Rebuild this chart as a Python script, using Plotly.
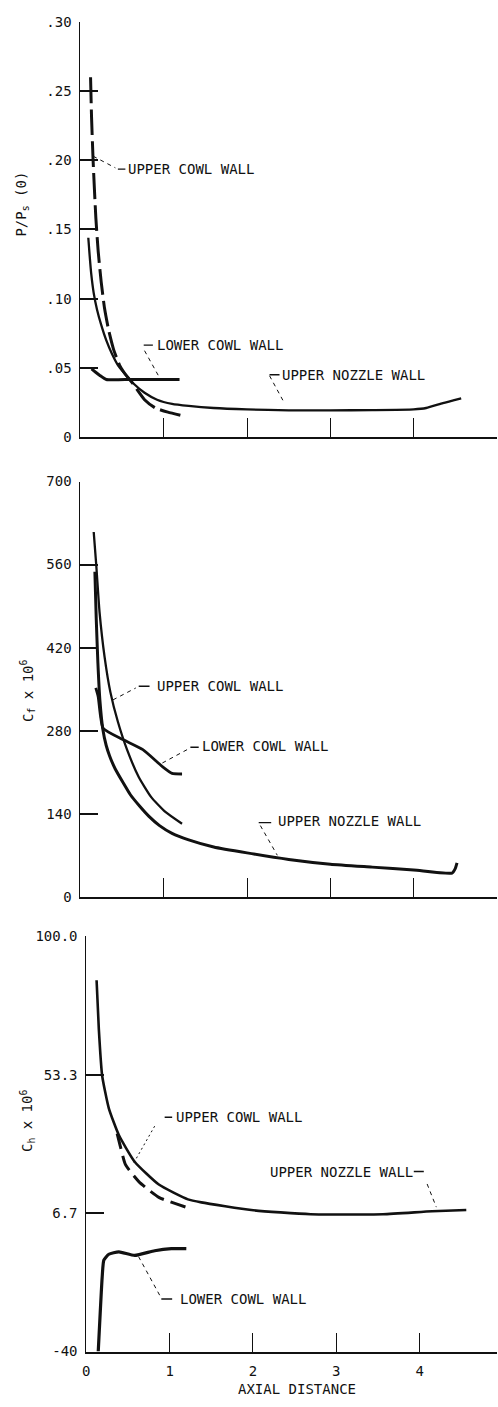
import plotly.graph_objects as go

W, H = 498, 1407
FONT = "DejaVu Sans Mono"

# ---------------- pressure ratio P/Ps(0) ----------------
p_upper_cowl_x = [0.122, 0.134, 0.154, 0.186, 0.214, 0.25, 0.29, 0.34, 0.40, 0.47, 0.55, 0.63, 0.77, 0.90, 1.05, 1.2]
p_upper_cowl_y = [0.26, 0.231, 0.198, 0.158, 0.134, 0.112, 0.093, 0.077, 0.063, 0.052, 0.0445, 0.0386, 0.027, 0.021, 0.018, 0.0157]

p_upper_nozzle_x = [0.095, 0.11, 0.13, 0.16, 0.20, 0.25, 0.31, 0.38, 0.46, 0.55, 0.65, 0.77, 0.92, 1.1, 1.3, 1.6,
                    2.0, 2.5, 3.0, 3.5, 4.0, 4.15, 4.35, 4.57]
p_upper_nozzle_y = [0.144, 0.132, 0.118, 0.104, 0.092, 0.081, 0.070, 0.060, 0.051, 0.0445, 0.038, 0.032, 0.027,
                    0.024, 0.0225, 0.021, 0.020, 0.0193, 0.0193, 0.0195, 0.020, 0.021, 0.0245, 0.028]

p_lower_cowl_x = [0.134, 0.18, 0.234, 0.312, 0.6, 0.9, 1.19]
p_lower_cowl_y = [0.0493, 0.047, 0.0445, 0.0416, 0.0416, 0.0416, 0.0416]

p_ticks = [0, 0.05, 0.10, 0.15, 0.20, 0.25, 0.30]
p_tick_text = ["0", ".05", ".10", ".15", ".20", ".25", ".30"]

# ---------------- skin friction Cf x 10^6 ----------------
cf_upper_cowl_x = [0.16, 0.19, 0.23, 0.29, 0.36, 0.45, 0.56, 0.70, 0.85, 1.02, 1.22]
cf_upper_cowl_y = [615, 560, 480, 405, 345, 295, 248, 202, 168, 143, 123]

cf_upper_nozzle_x = [0.174, 0.19, 0.21, 0.235, 0.27, 0.31, 0.352, 0.42, 0.51, 0.60, 0.71, 0.82, 0.95, 1.10,
                     1.30, 1.60, 2.0, 2.5, 3.0, 3.5, 4.0, 4.46, 4.50, 4.52]
cf_upper_nozzle_y = [548, 470, 395, 330, 282, 255, 237, 215, 193, 172, 153, 136, 120, 107,
                     96, 84, 74, 63, 55, 50, 45, 40, 48, 57]

cf_lower_cowl_x = [0.185, 0.214, 0.273, 0.51, 0.75, 0.98, 1.10, 1.22]
cf_lower_cowl_y = [352, 337, 284, 265, 248, 220, 208, 207]

cf_ticks = [0, 140, 280, 420, 560, 700]
cf_tick_text = ["0", "140", "280", "420", "560", "700"]

# ---------------- heat transfer Ch x 10^6 ----------------
ch_upper_nozzle_x = [0.123, 0.15, 0.19, 0.27, 0.39, 0.58, 0.87, 1.22, 1.38, 1.98, 2.69, 3.56, 4.15, 4.56]
ch_upper_nozzle_y = [85.2, 68.7, 53.0, 42.0, 33.0, 24.0, 16.3, 11.3, 10.3, 7.7, 6.3, 6.3, 7.3, 7.7]

ch_upper_cowl_x = [0.37, 0.41, 0.47, 0.63, 0.87, 1.27]
ch_upper_cowl_y = [33.5, 29.0, 23.0, 17.3, 12.0, 8.0]

ch_lower_cowl_x = [0.143, 0.19, 0.21, 0.27, 0.39, 0.58, 0.82, 1.02, 1.2]
ch_lower_cowl_y = [-40, -15, -9.2, -7.2, -6.4, -7.6, -6.0, -5.3, -5.3]

ch_ticks = [-40, 6.667, 53.333, 100]
ch_tick_text = ["-40", "6.7", "53.3", "100.0"]

x_ticks = [0, 1, 2, 3, 4, 5]
x_label_ticks = [0, 1, 2, 3, 4]
x_tick_text = ["0", "1", "2", "3", "4"]

INK = "#111111"

fig = go.Figure()


def curve(x, y, xa, ya, width, dash="solid"):
    fig.add_trace(go.Scatter(
        x=x, y=y, xaxis=xa, yaxis=ya, mode="lines",
        line=dict(color=INK, width=width, dash=dash, shape="spline", smoothing=0.5),
        hoverinfo="skip", showlegend=False))


curve(p_upper_nozzle_x, p_upper_nozzle_y, "x", "y", 2.3)
curve(p_upper_cowl_x, p_upper_cowl_y, "x", "y", 3.0, "26px,6px")
curve(p_lower_cowl_x, p_lower_cowl_y, "x", "y", 3.0)

curve(cf_upper_cowl_x, cf_upper_cowl_y, "x2", "y2", 2.3)
curve(cf_upper_nozzle_x, cf_upper_nozzle_y, "x2", "y2", 3.0)
curve(cf_lower_cowl_x, cf_lower_cowl_y, "x2", "y2", 2.8)

curve(ch_upper_nozzle_x, ch_upper_nozzle_y, "x3", "y3", 2.6)
curve(ch_upper_cowl_x, ch_upper_cowl_y, "x3", "y3", 3.0, "16px,7px")
curve(ch_lower_cowl_x, ch_lower_cowl_y, "x3", "y3", 3.2)


def frac_y(py):
    return 1 - py / H


xcommon = dict(showgrid=False, zeroline=False, showline=True, linecolor=INK, linewidth=1.6,
               ticks="inside", ticklen=19, tickwidth=1.2, tickcolor=INK,
               tickfont=dict(family=FONT, size=14, color=INK), fixedrange=True)
ycommon = dict(showgrid=False, zeroline=False, showline=True, linecolor=INK, linewidth=1.0,
               ticks="inside", ticklen=18, tickwidth=1.8, tickcolor=INK,
               tickfont=dict(family=FONT, size=14, color=INK), ticklabelstandoff=5,
               fixedrange=True)

fig.update_layout(
    width=W, height=H, margin=dict(l=0, r=0, t=0, b=0),
    paper_bgcolor="white", plot_bgcolor="white", showlegend=False,
    xaxis=dict(xcommon, domain=[77 / W, 497 / W], range=[0, 5], anchor="y",
               tickvals=x_ticks, showticklabels=False),
    yaxis=dict(ycommon, domain=[frac_y(434), frac_y(14)], range=[0, 0.30], anchor="x",
               tickvals=p_ticks, ticktext=p_tick_text),
    xaxis2=dict(xcommon, domain=[77 / W, 497 / W], range=[0, 5], anchor="y2",
                tickvals=x_ticks, showticklabels=False),
    yaxis2=dict(ycommon, domain=[frac_y(899), frac_y(479)], range=[0, 700], anchor="x2",
                tickvals=cf_ticks, ticktext=cf_tick_text),
    xaxis3=dict(xcommon, domain=[83 / W, 497 / W], range=[0, 414 / 84], anchor="y3",
                tickvals=x_label_ticks, ticktext=x_tick_text, ticklabelstandoff=6),
    yaxis3=dict(ycommon, domain=[frac_y(1359), frac_y(939)], range=[-40, 100], anchor="x3",
                tickvals=ch_ticks, ticktext=ch_tick_text),
)

label_font = dict(family=FONT, size=14, color=INK)


def label(text, x, y, xa, ya):
    fig.add_annotation(text=text, x=x, y=y, xref=xa, yref=ya, xanchor="left", yanchor="middle",
                       showarrow=False, font=label_font)


def leader(x0, y0, x1, y1, xa, ya, dash="dash", width=1.0):
    fig.add_shape(type="line", x0=x0, y0=y0, x1=x1, y1=y1, xref=xa, yref=ya,
                  line=dict(color=INK, width=width, dash=dash))


# pressure panel labels
label("UPPER COWL WALL", 0.55, 0.1936, "x", "y")
leader(0.154, 0.2029, 0.42, 0.1945, "x", "y", "4px,4px")
leader(0.45, 0.1936, 0.54, 0.1936, "x", "y", "solid", 1.4)
label("LOWER COWL WALL", 0.90, 0.0664, "x", "y")
leader(0.76, 0.0664, 0.87, 0.0664, "x", "y", "solid", 1.4)
leader(0.77, 0.0624, 0.95, 0.0429, "x", "y", "4px,4px")
label("UPPER NOZZLE WALL", 2.40, 0.0445, "x", "y")
leader(2.27, 0.0450, 2.39, 0.0450, "x", "y", "solid", 1.4)
leader(2.27, 0.0443, 2.43, 0.0266, "x", "y", "4px,4px")

# skin friction panel labels
label("UPPER COWL WALL", 0.90, 355, "x2", "y2")
leader(0.70, 355, 0.83, 355, "x2", "y2", "solid", 1.4)
leader(0.392, 332, 0.665, 352, "x2", "y2", "4px,4px")
label("LOWER COWL WALL", 1.44, 254, "x2", "y2")
leader(1.32, 252, 1.42, 252, "x2", "y2", "solid", 1.4)
leader(1.28, 248, 0.95, 223, "x2", "y2", "4px,4px")
label("UPPER NOZZLE WALL", 2.35, 127, "x2", "y2")
leader(2.14, 125, 2.29, 125, "x2", "y2", "solid", 1.4)
leader(2.16, 120, 2.363, 70, "x2", "y2", "4px,4px")

# heat transfer panel labels
label("UPPER COWL WALL", 1.05, 39, "x3", "y3")
leader(0.94, 39, 1.03, 39, "x3", "y3", "solid", 1.4)
leader(0.82, 36, 0.571, 23.7, "x3", "y3", "2px,3px")
label("UPPER NOZZLE WALL", 2.18, 20.7, "x3", "y3")
leader(3.93, 20.7, 4.05, 20.7, "x3", "y3", "solid", 1.4)
leader(4.09, 16.5, 4.2, 8.7, "x3", "y3", "4px,4px")
label("LOWER COWL WALL", 1.10, -22.3, "x3", "y3")
leader(0.90, -22.3, 1.03, -22.3, "x3", "y3", "solid", 1.4)
leader(0.88, -21, 0.627, -8, "x3", "y3", "4px,4px")


# axis titles
def ytitle(text, px, py):
    fig.add_annotation(text=text, x=px / W, y=frac_y(py), xref="paper", yref="paper",
                       textangle=-90, showarrow=False, font=label_font,
                       xanchor="center", yanchor="middle")


ytitle("P/P<sub>s</sub> (0)", 18, 198)
ytitle("C<sub>f</sub> x 10<sup>6</sup>", 24, 690)
ytitle("C<sub>h</sub> x 10<sup>6</sup>", 24, 1125)

fig.add_annotation(text="AXIAL DISTANCE", x=295 / W, y=frac_y(1397), xref="paper", yref="paper",
                   showarrow=False, font=label_font, xanchor="center", yanchor="middle")

fig.write_html("out.html")
